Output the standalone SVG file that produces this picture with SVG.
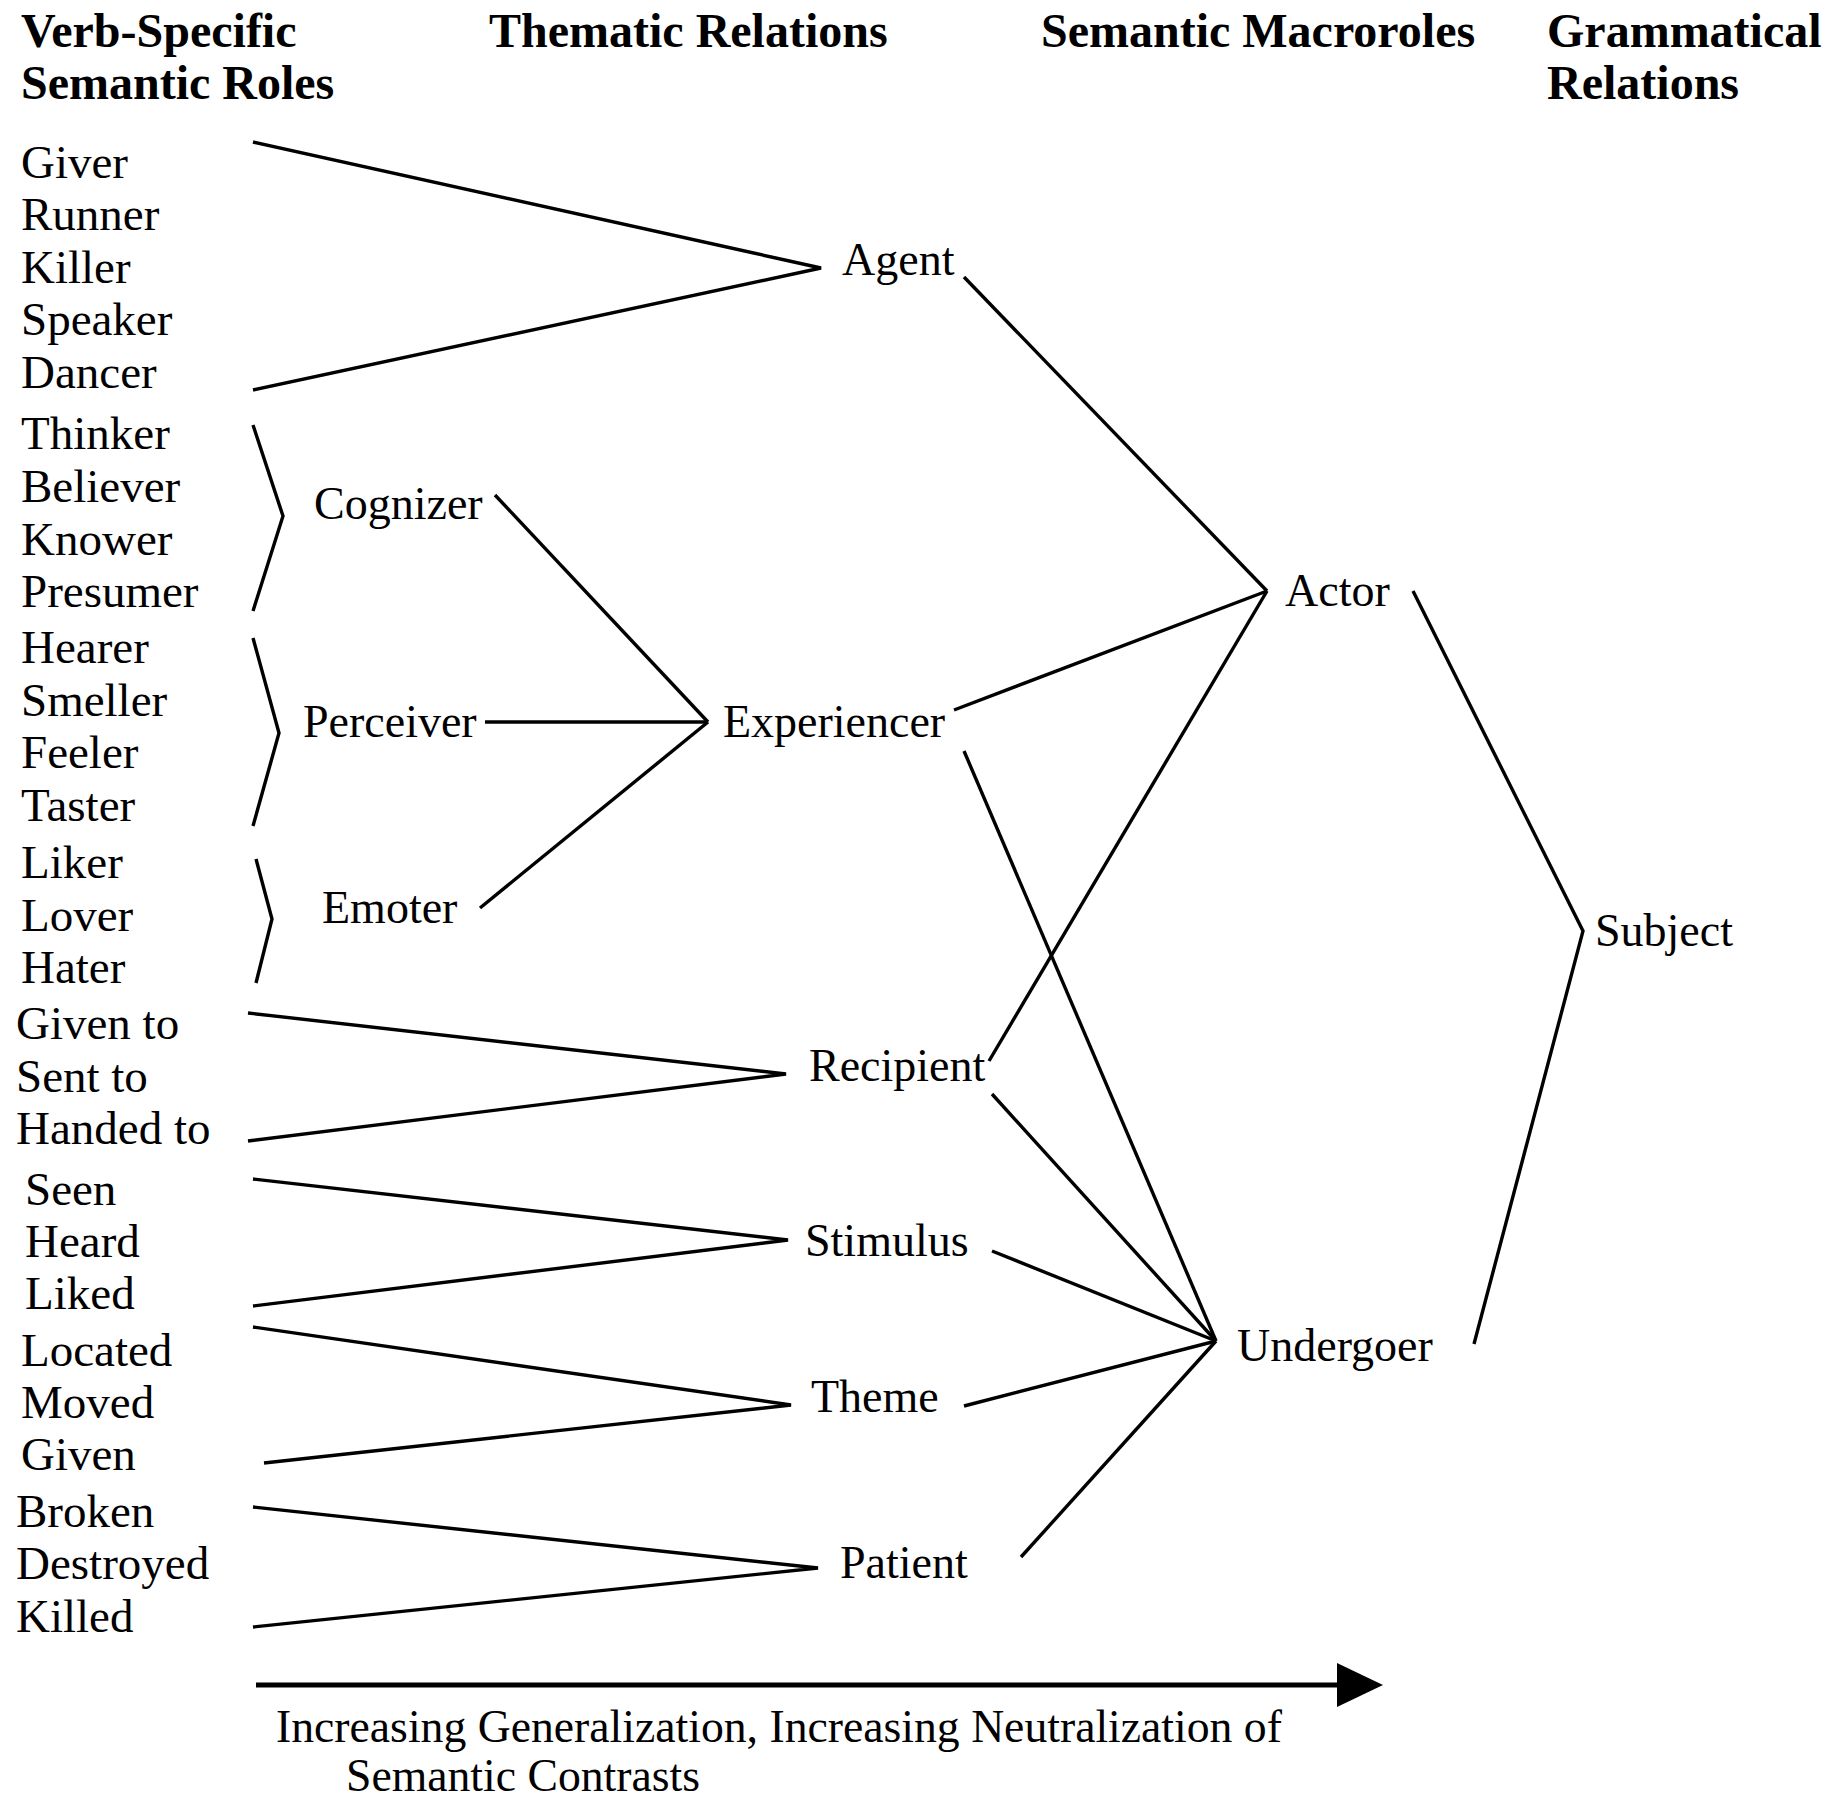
<svg xmlns="http://www.w3.org/2000/svg" width="1825" height="1799" viewBox="0 0 1825 1799">
<style>
text { font-family: "Liberation Serif", "Times New Roman", serif; fill: #000; }
.h { font-size: 48px; font-weight: bold; }
.t { font-size: 46px; }
.l { font-size: 47px; }
.cap { font-size: 45.7px; }
.c line, .c polyline { stroke: #000; stroke-width: 3.4; fill: none; stroke-linecap: butt; }
</style>
<defs>
<marker id="ah" markerUnits="userSpaceOnUse" markerWidth="48" markerHeight="46" refX="1" refY="22" orient="auto">
<polygon points="0,0 46,22 0,44" fill="#000"/>
</marker>
</defs>
<rect width="1825" height="1799" fill="#fff"/>
<g id="headers">
<text class="h" x="21" y="47">Verb-Specific</text>
<text class="h" x="21" y="99">Semantic Roles</text>
<text class="h" x="489" y="47">Thematic Relations</text>
<text class="h" x="1041" y="47">Semantic Macroroles</text>
<text class="h" x="1547" y="47">Grammatical</text>
<text class="h" x="1547" y="99">Relations</text>
</g>
<g id="verb-specific">
<text class="l" x="21" y="178">Giver</text>
<text class="l" x="21" y="230">Runner</text>
<text class="l" x="21" y="283">Killer</text>
<text class="l" x="21" y="335">Speaker</text>
<text class="l" x="21" y="388">Dancer</text>
<text class="l" x="21" y="449">Thinker</text>
<text class="l" x="21" y="502">Believer</text>
<text class="l" x="21" y="555">Knower</text>
<text class="l" x="21" y="607">Presumer</text>
<text class="l" x="21" y="663">Hearer</text>
<text class="l" x="21" y="716">Smeller</text>
<text class="l" x="21" y="768">Feeler</text>
<text class="l" x="21" y="821">Taster</text>
<text class="l" x="21" y="878">Liker</text>
<text class="l" x="21" y="931">Lover</text>
<text class="l" x="21" y="983">Hater</text>
<text class="l" x="16" y="1039">Given to</text>
<text class="l" x="16" y="1092">Sent to</text>
<text class="l" x="16" y="1144">Handed to</text>
<text class="l" x="25" y="1205">Seen</text>
<text class="l" x="25" y="1257">Heard</text>
<text class="l" x="25" y="1309">Liked</text>
<text class="l" x="21" y="1366">Located</text>
<text class="l" x="21" y="1418">Moved</text>
<text class="l" x="21" y="1470">Given</text>
<text class="l" x="16" y="1527">Broken</text>
<text class="l" x="16" y="1579">Destroyed</text>
<text class="l" x="16" y="1632">Killed</text>
</g>
<g id="node-cognizer"><text class="t" x="314" y="519">Cognizer</text></g>
<g id="node-perceiver"><text class="t" x="303" y="737">Perceiver</text></g>
<g id="node-emoter"><text class="t" x="322" y="923">Emoter</text></g>
<g id="node-agent"><text class="t" x="842" y="275">Agent</text></g>
<g id="node-experiencer"><text class="t" x="723" y="737">Experiencer</text></g>
<g id="node-recipient"><text class="t" x="809" y="1081">Recipient</text></g>
<g id="node-stimulus"><text class="t" x="805" y="1256">Stimulus</text></g>
<g id="node-theme"><text class="t" x="811" y="1412">Theme</text></g>
<g id="node-patient"><text class="t" x="840" y="1578">Patient</text></g>
<g id="node-actor"><text class="t" x="1285" y="606">Actor</text></g>
<g id="node-undergoer"><text class="t" x="1237" y="1361">Undergoer</text></g>
<g id="node-subject"><text class="t" x="1595" y="946">Subject</text></g>
<g id="connectors" class="c">
<polyline points="253,142 821,268 253,390"/>
<polyline points="253,425 283,516 253,611"/>
<polyline points="253,638 279,733 253,826"/>
<polyline points="256,859 272,919 256,983"/>
<polyline points="248,1013 786,1074 248,1141"/>
<polyline points="253,1179 788,1240 253,1306"/>
<polyline points="253,1327 791,1405 264,1463"/>
<polyline points="253,1507 818,1568 253,1627"/>
<line x1="495" y1="495" x2="708" y2="722"/>
<line x1="485" y1="722" x2="708" y2="722"/>
<line x1="480" y1="908" x2="708" y2="722"/>
<line x1="964" y1="277" x2="1267" y2="591"/>
<line x1="954" y1="710" x2="1267" y2="591"/>
<line x1="989" y1="1061" x2="1267" y2="591"/>
<line x1="964" y1="751" x2="1216" y2="1341"/>
<line x1="992" y1="1094" x2="1216" y2="1341"/>
<line x1="992" y1="1251" x2="1216" y2="1341"/>
<line x1="964" y1="1406" x2="1216" y2="1341"/>
<line x1="1021" y1="1557" x2="1216" y2="1341"/>
<polyline points="1413,591 1583,931 1474,1344"/>
<line x1="256" y1="1685" x2="1338" y2="1685" style="stroke-width:5" marker-end="url(#ah)"/>
</g>
<g id="caption">
<text class="cap" x="276" y="1742">Increasing Generalization, Increasing Neutralization of</text>
<text class="cap" x="346" y="1791">Semantic Contrasts</text>
</g>
</svg>
